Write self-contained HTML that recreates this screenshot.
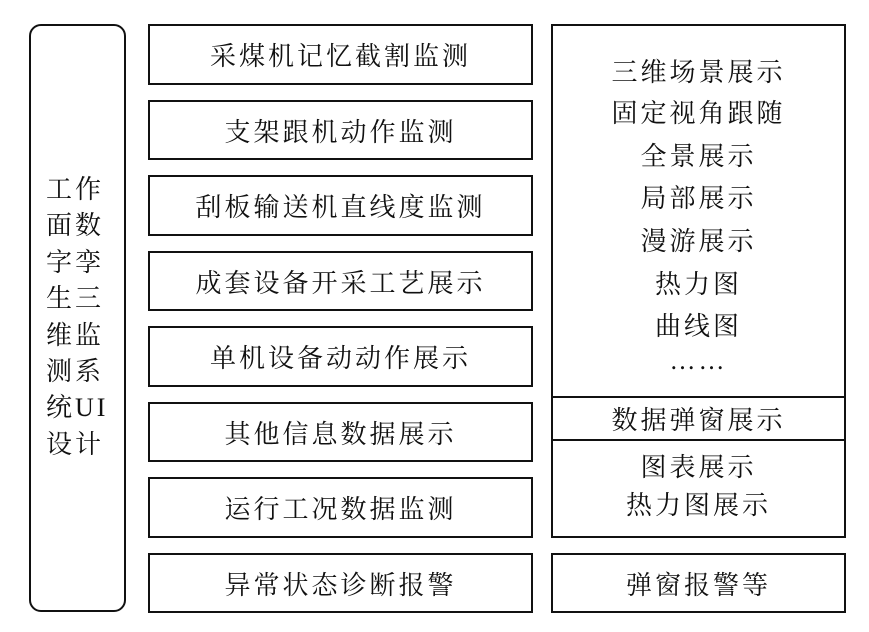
<!DOCTYPE html>
<html><head><meta charset="utf-8"><style>
body{margin:0;width:869px;height:632px;background:#fff;position:relative;overflow:hidden;font-family:"Liberation Serif","Noto Serif CJK SC","Noto Serif CJK JP","Noto Serif CJK",serif;color:#111}
.b{position:absolute;border:2.5px solid #111;box-sizing:border-box;display:flex;align-items:center;justify-content:center;font-size:26px;letter-spacing:3px}
.t{position:absolute;left:0;width:100%;text-align:center;font-size:26px;line-height:1;letter-spacing:3px}
</style></head><body>
<div class="b" style="left:29px;top:24px;width:97px;height:588px;border-radius:12px"></div>
<div style="position:absolute;left:46px;top:172px;width:70px;font-size:26px;line-height:36.4px;letter-spacing:3px">工作<br>面数<br>字孪<br>生三<br>维监<br>测系<br>统UI<br>设计</div>
<div class="b" style="left:148px;top:24px;width:385px;height:61px">采煤机记忆截割监测</div>
<div class="b" style="left:148px;top:100px;width:385px;height:60px">支架跟机动作监测</div>
<div class="b" style="left:148px;top:175px;width:385px;height:61px">刮板输送机直线度监测</div>
<div class="b" style="left:148px;top:251px;width:385px;height:60px">成套设备开采工艺展示</div>
<div class="b" style="left:148px;top:326px;width:385px;height:61px">单机设备动动作展示</div>
<div class="b" style="left:148px;top:402px;width:385px;height:60px">其他信息数据展示</div>
<div class="b" style="left:148px;top:477px;width:385px;height:61px">运行工况数据监测</div>
<div class="b" style="left:148px;top:553px;width:385px;height:60px">异常状态诊断报警</div>
<div class="b" style="left:551px;top:24px;width:295px;height:514px;display:block">
<div class="t" style="top:34px">三维场景展示</div>
<div class="t" style="top:75px">固定视角跟随</div>
<div class="t" style="top:118px">全景展示</div>
<div class="t" style="top:160px">局部展示</div>
<div class="t" style="top:203px">漫游展示</div>
<div class="t" style="top:246px">热力图</div>
<div class="t" style="top:288px">曲线图</div>
<div class="t" style="top:322px">……</div>
<div style="position:absolute;left:0;right:0;top:370px;height:41px;border-top:2px solid #111;border-bottom:2px solid #111;display:flex;align-items:center;justify-content:center;font-size:26px;letter-spacing:3px">数据弹窗展示</div>
<div class="t" style="top:429px">图表展示</div>
<div class="t" style="top:467px">热力图展示</div>
</div>
<div class="b" style="left:551px;top:553px;width:295px;height:60px">弹窗报警等</div>
</body></html>
